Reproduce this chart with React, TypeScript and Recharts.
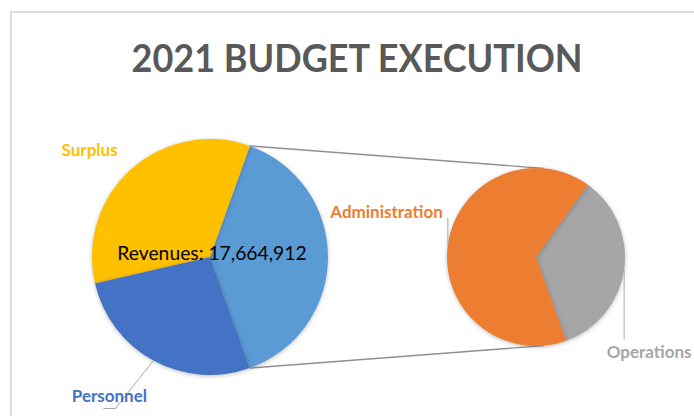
import React from 'react';
import { PieChart, Pie, Cell, Customized } from 'recharts';

// ---- data ----
const totalRevenue = 17664912;
const mainNames = ['Other', 'Surplus', 'Personnel'];
const mainOwnValues = [6020000, 4750000]; // Surplus, Personnel
const detailNames = ['Operations', 'Administration'];
const detailValues = [2384912, 4510000];
const titleText = '2021 BUDGET EXECUTION';
const revenueLabel = 'Revenues';

const otherValue = detailValues.reduce((a, b) => a + b, 0);
const mainValues = [otherValue, ...mainOwnValues];

const mainData = mainNames.map((name, i) => ({ name, value: mainValues[i] }));
const detailData = detailNames.map((name, i) => ({ name, value: detailValues[i] }));

// ---- style ----
const COLORS: Record<string, string> = {
  Other: '#5B9BD5',
  Surplus: '#FFC000',
  Personnel: '#4472C4',
  Operations: '#A5A5A5',
  Administration: '#ED7D31',
};
const FONT = 'Lato, "Open Sans", sans-serif';
const W = 694;
const H = 416;
const P1 = { cx: 210, cy: 257, r: 118 };
const P2 = { cx: 536, cy: 257, r: 89 };
const otherSweep = (otherValue / mainValues.reduce((a, b) => a + b, 0)) * 360;
const START = -otherSweep / 2;
const RAD = Math.PI / 180;

const labelLayout: Record<string, { dx: number; dy: number; anchor: 'start' | 'middle' | 'end'; leader?: number[][] }> = {
  Surplus: { dx: -14, dy: -13, anchor: 'end' },
  Personnel: { dx: -44, dy: 41, anchor: 'middle', leader: [[0, 0], [-38, 48], [-50, 48]] },
  Administration: { dx: -5, dy: -27, anchor: 'end', leader: [[0, 0], [0, -27]] },
  Operations: { dx: 25, dy: 89, anchor: 'middle', leader: [[0, 0], [0, 70]] },
};

const polar = (cx: number, cy: number, r: number, a: number) => ({
  x: cx + r * Math.cos(-a * RAD),
  y: cy + r * Math.sin(-a * RAD),
});

const renderLabel = (props: any) => {
  const { cx, cy, midAngle, outerRadius, name } = props;
  if (name === 'Other') {
    return (
      <text x={cx + 2} y={cy + 3} textAnchor="middle" fill="#000" fontFamily={FONT} fontSize={19.3}>
        {`${revenueLabel}: ${totalRevenue.toLocaleString('en-US')}`}
      </text>
    );
  }
  const l = labelLayout[name];
  if (!l) return null;
  const e = polar(cx, cy, outerRadius, midAngle);
  return (
    <g>
      {l.leader && (
        <polyline
          points={l.leader.map(([dx, dy]) => `${e.x + dx},${e.y + dy}`).join(' ')}
          fill="none"
          stroke="#A6A6A6"
          strokeWidth={1}
        />
      )}
      <text
        x={e.x + l.dx}
        y={e.y + l.dy}
        textAnchor={l.anchor}
        fill={COLORS[name]}
        fontFamily={FONT}
        fontWeight={700}
        fontSize={17}
      >
        {name}
      </text>
    </g>
  );
};

const Extras = () => {
  const a1 = polar(P1.cx, P1.cy, P1.r, -START);
  const b1 = polar(P2.cx, P2.cy, P2.r, 85);
  const a2 = polar(P1.cx, P1.cy, P1.r, START);
  const b2 = polar(P2.cx, P2.cy, P2.r, -85);
  return (
    <g>
      <line x1={a1.x} y1={a1.y} x2={b1.x} y2={b1.y} stroke="#8F8F8F" strokeWidth={1.3} />
      <line x1={a2.x} y1={a2.y} x2={b2.x} y2={b2.y} stroke="#8F8F8F" strokeWidth={1.3} />
      <text
        x={357}
        y={72}
        textAnchor="middle"
        fill="#595959"
        fontFamily={FONT}
        fontWeight={700}
        fontSize={39}
        textLength={451}
        lengthAdjust="spacingAndGlyphs"
      >
        {titleText}
      </text>
    </g>
  );
};

export default function App() {
  return (
    <div style={{ position: 'absolute', left: 0, top: 0, width: W, height: H, background: '#fff', overflow: 'hidden' }}>
      <style>{`.pie-shadow .recharts-pie-sector { filter: drop-shadow(0px 1px 2px rgba(0,0,0,0.25)); }`}</style>
      <div
        style={{
          position: 'absolute',
          left: 10,
          top: 11,
          width: 760,
          height: 480,
          borderLeft: '2px solid #DEDEDE',
          borderTop: '2px solid #DEDEDE',
        }}
      />
      <div style={{ position: 'absolute', left: 0, top: 0 }}>
        <PieChart width={W} height={H} margin={{ top: 0, right: 0, bottom: 0, left: 0 }}>
          <Pie
            data={mainData}
            dataKey="value"
            nameKey="name"
            cx={P1.cx}
            cy={P1.cy}
            outerRadius={P1.r}
            startAngle={START}
            endAngle={START + 360}
            stroke="none"
            className="pie-shadow"
            label={renderLabel}
            labelLine={false}
            isAnimationActive={false}
          >
            {mainData.map((d) => (
              <Cell key={d.name} fill={COLORS[d.name]} />
            ))}
          </Pie>
          <Pie
            data={detailData}
            dataKey="value"
            nameKey="name"
            cx={P2.cx}
            cy={P2.cy}
            outerRadius={P2.r}
            startAngle={START}
            endAngle={START + 360}
            stroke="none"
            className="pie-shadow"
            label={renderLabel}
            labelLine={false}
            isAnimationActive={false}
          >
            {detailData.map((d) => (
              <Cell key={d.name} fill={COLORS[d.name]} />
            ))}
          </Pie>
          <Customized component={Extras} />
        </PieChart>
      </div>
    </div>
  );
}
